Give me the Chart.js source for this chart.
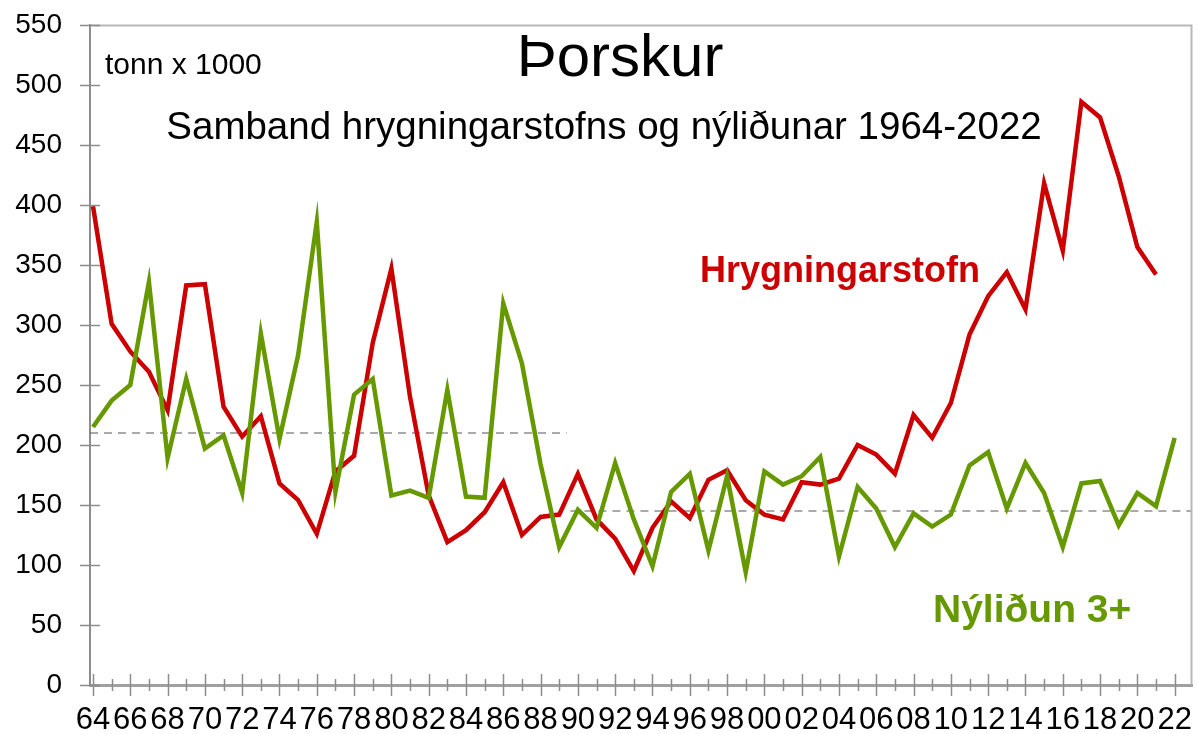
<!DOCTYPE html>
<html>
<head>
<meta charset="utf-8">
<title>Þorskur</title>
<script src="https://cdn.jsdelivr.net/npm/chart.js@4.4.1/dist/chart.umd.min.js"></script>
<style>
  html, body { margin: 0; padding: 0; background: #fff; }
  #wrap { width: 1197px; height: 734px; position: relative; }
</style>
</head>
<body>
<div id="wrap"><canvas id="chart"></canvas></div>
<script>
(function () {
  // ár 1964-2022
  const years = [1964, 1965, 1966, 1967, 1968, 1969, 1970, 1971, 1972, 1973,
    1974, 1975, 1976, 1977, 1978, 1979, 1980, 1981, 1982, 1983,
    1984, 1985, 1986, 1987, 1988, 1989, 1990, 1991, 1992, 1993,
    1994, 1995, 1996, 1997, 1998, 1999, 2000, 2001, 2002, 2003,
    2004, 2005, 2006, 2007, 2008, 2009, 2010, 2011, 2012, 2013,
    2014, 2015, 2016, 2017, 2018, 2019, 2020, 2021, 2022];

  // Hrygningarstofn (tonn x 1000), 1964-2021
  const ssb = [399, 301, 278, 261, 229, 333, 334, 232, 207, 224,
    168, 154, 126, 178, 191, 285, 347, 240, 158, 119,
    129, 144, 169, 125, 140, 142, 176, 138, 122, 95,
    131, 153, 139, 171, 179, 154, 142, 138, 169, 167,
    172, 200, 192, 176, 225, 206, 235, 292, 324, 344,
    313, 418, 362, 486, 473, 424, 365, 342];

  // Nýliðun 3+, 1964-2022
  const recruits = [215, 237, 250, 336, 189, 255, 197, 208, 160, 293,
    205, 275, 386, 161, 242, 255, 158, 162, 156, 246,
    157, 156, 318, 268, 184, 115, 146, 131, 185, 138,
    99, 161, 176, 112, 174, 94, 178, 167, 174, 190,
    107, 165, 147, 115, 143, 132, 142, 183, 194, 147,
    185, 160, 115, 168, 170, 133, 160, 149, 206];

  // viðmiðunarlínur (brotnar)
  const refLevel = [210, 145];
  const refStart = [1963.84, 1989.6];
  const refEnd = [1989.4, 2022.93];

  const yTicks = [0, 50, 100, 150, 200, 250, 300, 350, 400, 450, 500, 550];

  const FONT = '"Liberation Sans", Arial, Helvetica, sans-serif';
  const RED = '#cc0000';
  const GREEN = '#669900';

  const toPoints = (vals) => vals.map((v, i) => ({ x: years[i], y: v }));

  const refSets = refLevel.map((lvl, i) => ({
    label: 'ref' + i,
    data: [{ x: refStart[i], y: lvl }, { x: refEnd[i], y: lvl }],
    borderColor: '#555555',
    borderWidth: 1,
    borderDash: [8, 6],
    pointRadius: 0,
    order: 3,
  }));

  const noOverflow = (s) => {
    s.paddingTop = 0;
    s.paddingBottom = 0;
    s.paddingLeft = 0;
    s.paddingRight = 0;
  };

  const frame = {
    id: 'frame',
    afterDraw(chart) {
      const { ctx, chartArea: a, scales } = chart;
      const x = scales.x, y = scales.y;
      ctx.save();
      ctx.strokeStyle = '#b8b8b8';
      ctx.lineWidth = 2;
      ctx.beginPath();
      ctx.moveTo(a.left, a.top + 0.5);
      ctx.lineTo(a.right - 0.5, a.top + 0.5);
      ctx.lineTo(a.right - 0.5, a.bottom);
      ctx.stroke();

      ctx.strokeStyle = '#8c8c8c';
      ctx.lineWidth = 1.5;
      y.ticks.forEach((t) => {
        const py = Math.round(y.getPixelForValue(t.value)) + 0.5;
        ctx.beginPath();
        ctx.moveTo(a.left - 10, py);
        ctx.lineTo(a.left + 10, py);
        ctx.stroke();
      });
      x.ticks.forEach((t) => {
        const px = Math.round(x.getPixelForValue(t.value)) + 0.5;
        const len = t.value % 2 === 0 ? 11 : 6;
        ctx.beginPath();
        ctx.moveTo(px, a.bottom - len);
        ctx.lineTo(px, a.bottom + len);
        ctx.stroke();
      });
      ctx.restore();
    },
  };

  const texts = {
    id: 'texts',
    afterDraw(chart) {
      const ctx = chart.ctx;
      ctx.save();
      ctx.textBaseline = 'alphabetic';
      ctx.fillStyle = '#000';
      ctx.textAlign = 'left';
      ctx.font = '30px ' + FONT;
      ctx.fillText('tonn x 1000', 105, 74);
      ctx.textAlign = 'center';
      ctx.font = '60px ' + FONT;
      ctx.fillText('Þorskur', 620, 76);
      ctx.font = '38.5px ' + FONT;
      ctx.fillText('Samband hrygningarstofns og nýliðunar 1964-2022', 604, 139);
      ctx.textAlign = 'left';
      ctx.font = 'bold 36px ' + FONT;
      ctx.fillStyle = RED;
      ctx.fillText('Hrygningarstofn', 700, 282);
      ctx.font = 'bold 39px ' + FONT;
      ctx.fillStyle = GREEN;
      ctx.fillText('Nýliðun 3+', 933, 622);
      ctx.restore();
    },
  };

  new Chart(document.getElementById('chart'), {
    type: 'line',
    data: {
      datasets: [
        {
          label: 'Nýliðun 3+',
          data: toPoints(recruits),
          borderColor: GREEN,
          borderWidth: 4.5,
          pointRadius: 0,
          tension: 0,
          order: 1,
        },
        {
          label: 'Hrygningarstofn',
          data: toPoints(ssb),
          borderColor: RED,
          borderWidth: 4.5,
          pointRadius: 0,
          tension: 0,
          order: 2,
        },
        ...refSets,
      ],
    },
    options: {
      responsive: true,
      maintainAspectRatio: false,
      animation: false,
      layout: { padding: { top: 25, right: 5, left: 0, bottom: 0 } },
      plugins: { legend: { display: false }, tooltip: { enabled: false } },
      scales: {
        x: {
          type: 'linear',
          min: 1963.84,
          max: 2022.93,
          afterBuildTicks: (s) => { s.ticks = years.map((v) => ({ value: v })); },
          afterFit: (s) => { s.height = 49; noOverflow(s); },
          grid: { display: false, drawTicks: false },
          border: { display: true, color: '#a0a0a0', width: 3 },
          ticks: {
            autoSkip: false,
            maxRotation: 0,
            minRotation: 0,
            padding: 17,
            color: '#000',
            font: { family: FONT, size: 31 },
            callback: (v) => (v % 2 === 0 ? String(v).slice(2) : ''),
          },
        },
        y: {
          min: 0,
          max: 550,
          afterBuildTicks: (s) => { s.ticks = yTicks.map((v) => ({ value: v })); },
          afterFit: (s) => { s.width = 90; noOverflow(s); },
          grid: { display: false, drawTicks: false },
          border: { display: true, color: '#8c8c8c', width: 2 },
          ticks: {
            padding: 28,
            color: '#000',
            font: { family: FONT, size: 28 },
          },
        },
      },
    },
    plugins: [frame, texts],
  });
})();
</script>
</body>
</html>
